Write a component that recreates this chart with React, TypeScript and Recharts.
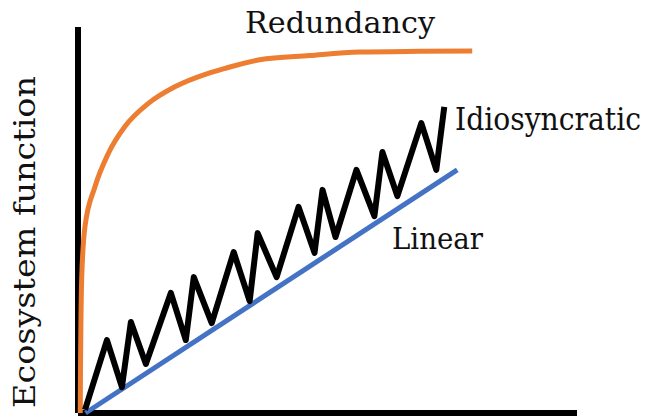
import { LineChart, Line, XAxis, YAxis, ReferenceLine } from "recharts";

// x = species richness (0-100), y = ecosystem function (0-100)
const redundancyX = [
  0.45, 0.5, 0.6, 0.75, 1.4, 3.4, 6.1, 9.4, 14.1, 19.4, 26.1, 29.5, 36.4,
  46.4, 56.4, 68.5, 79,
];
const redundancyY = [
  0, 11.9, 24.9, 35.3, 48.3, 58.6, 67.3, 74.2, 80.2, 84.5, 88.0, 89.3, 91.5,
  92.6, 93.5, 93.7, 93.8,
];

const linearX = [1.5, 76];
const linearY = [0, 63];

const idioX = [
  1.4, 5.8, 8.8, 10.6, 13.6, 18.6, 21.6, 23.2, 26.8, 31.2, 34.4, 36.0,
  39.8, 44.2, 47.4, 49.0, 51.6, 55.8, 59.4, 61.0, 64.0, 68.8, 71.8, 73.4,
];
const idioY = [
  0.8, 18.9, 6.7, 23.6, 12.7, 31.1, 18.9, 35.2, 23.3, 41.7, 29.0, 46.6,
  35.2, 53.4, 41.5, 57.8, 45.6, 63.0, 51.0, 67.6, 56.2, 75.1, 63.0, 79.3,
];

const zip = (xs: number[], ys: number[]) => xs.map((x, i) => ({ x, y: ys[i] }));

const redundancy = zip(redundancyX, redundancyY);
const linear = zip(linearX, linearY);
const idio = zip(idioX, idioY);

const serif = "DejaVu Serif";

export default function App() {
  return (
    <div style={{ position: "absolute", left: 0, top: 0, background: "#fff" }}>
      <LineChart
        width={654}
        height={418}
        margin={{ top: 27, right: 77, bottom: 5, left: 78 }}
      >
        <XAxis type="number" dataKey="x" domain={[0, 100]} hide />
        <YAxis type="number" dataKey="y" domain={[0, 100]} hide />
        <ReferenceLine x={0} stroke="#000" strokeWidth={6} ifOverflow="visible" />
        <ReferenceLine y={0} stroke="#000" strokeWidth={6} ifOverflow="visible" />
        <Line
          data={redundancy}
          dataKey="y"
          type="monotone"
          stroke="#ED7D31"
          strokeWidth={5}
          dot={false}
          isAnimationActive={false}
        />
        <Line
          data={linear}
          dataKey="y"
          type="linear"
          stroke="#4472C4"
          strokeWidth={5}
          dot={false}
          isAnimationActive={false}
        />
        <Line
          data={idio}
          dataKey="y"
          type="linear"
          stroke="#000"
          strokeWidth={6}
          strokeLinejoin="round"
          dot={false}
          isAnimationActive={false}
        />
        <text x={245} y={33} fontSize={30} fill="#111" fontFamily={serif} textLength={190} lengthAdjust="spacingAndGlyphs">
          Redundancy
        </text>
        <text x={455} y={130} fontSize={31} fill="#111" fontFamily={serif} textLength={186} lengthAdjust="spacingAndGlyphs">
          Idiosyncratic
        </text>
        <text x={392} y={249} fontSize={30} fill="#111" fontFamily={serif} textLength={91} lengthAdjust="spacingAndGlyphs">
          Linear
        </text>
        <text
          transform="translate(35,408) rotate(-90)"
          fontSize={30}
          fill="#111"
          fontFamily={serif}
          textLength={332}
          lengthAdjust="spacingAndGlyphs"
        >
          Ecosystem function
        </text>
      </LineChart>
    </div>
  );
}
